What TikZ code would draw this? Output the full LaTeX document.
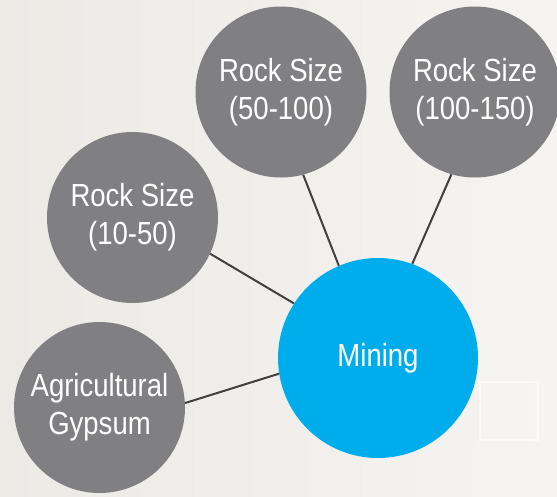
\documentclass[tikz,border=0pt]{standalone}
\usepackage{fontspec}
\setmainfont{Liberation Sans}[FakeStretch=0.86]
\definecolor{bgL}{RGB}{236,234,229}
\definecolor{bgR}{RGB}{245,244,242}
\definecolor{bubble}{RGB}{128,128,131}
\definecolor{hub}{RGB}{0,173,236}
\definecolor{link}{RGB}{64,64,64}
\tikzset{
  bubblenode/.style={circle, fill=bubble, minimum size=171pt, inner sep=0pt,
    text=white, align=center, font=\fontsize{32}{38}\selectfont},
  hubnode/.style={circle, fill=hub, minimum size=200pt, inner sep=0pt,
    text=white, align=center, font=\fontsize{32}{38}\selectfont},
  linkline/.style={draw=link, line width=2pt}
}
\begin{document}
\begin{tikzpicture}[x=1pt, y=-1pt]
  \useasboundingbox (0,0) rectangle (557,496);
  \fill[left color=bgL, right color=bgR] (0,0) rectangle (557,496);
  \draw[white, opacity=0.6, line width=2pt, fill=white, fill opacity=0.15] (480,382) rectangle (538,440);
  \node[hubnode] (mining) at (378,358) {Mining};
  \node[bubblenode] (r50) at (281,92) {Rock Size\\(50-100)};
  \node[bubblenode] (r100) at (475,92) {Rock Size\\(100-150)};
  \node[bubblenode] (r10) at (132.5,217.5) {Rock Size\\(10-50)};
  \node[bubblenode] (agri) at (99.5,407.5) {Agricultural\\Gypsum};
  \draw[linkline] (r50.-75.8) -- (mining.113);
  \draw[linkline] (r100.-106.8) -- (mining.70.3);
  \draw[linkline] (r10.-25.8) -- (mining.147);
  \draw[linkline] (agri.3.7) -- (mining.-171.4);
\end{tikzpicture}
\end{document}
